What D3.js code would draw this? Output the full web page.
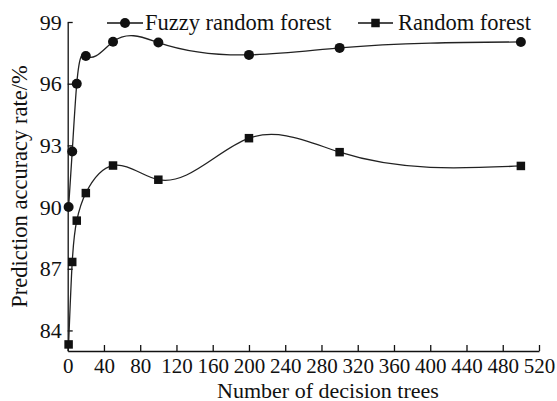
<!DOCTYPE html>
<html>
<head>
<meta charset="utf-8">
<script src="https://cdn.jsdelivr.net/npm/d3@7"></script>
<style>
  body { margin: 0; background: #fff; }
</style>
</head>
<body>
<div id="chart"></div>
<script>
const trees = [1, 5, 10, 20, 50, 100, 200, 300, 500];
const fuzzyRF = [90.0, 92.7, 96.0, 97.35, 98.04, 98.0, 97.4, 97.74, 98.03];
const plainRF = [83.32, 87.33, 89.34, 90.68, 92.02, 91.33, 93.35, 92.67, 92.0];
const seriesNames = ['Fuzzy random forest', 'Random forest'];
const xTicks = d3.range(0, 521, 40);
const yTicks = [84, 87, 90, 93, 96, 99];

const w = 557;
const h = 401;
const plotLeft = 67.7, plotRight = 539, plotTop = 22, plotBottom = 351;
const ink = '#111';
const serif = '"Liberation Serif", "Times New Roman", Times, serif';
const fs = '22.5px';

// natural cubic spline in x (like the plotting program's "spline" connector)
function SplineX(context) { this._context = context; }
SplineX.prototype = {
  areaStart() { this._line = 0; },
  areaEnd() { this._line = NaN; },
  lineStart() { this._x = []; this._y = []; },
  point(x, y) { this._x.push(+x); this._y.push(+y); },
  lineEnd() {
    let xs = this._x, ys = this._y, n = xs.length, ctx = this._context;
    if (!n) return;
    ctx.moveTo(xs[0], ys[0]);
    if (n < 3) { if (n === 2) ctx.lineTo(xs[1], ys[1]); return; }
    let hh = d3.range(n - 1).map(i => xs[i + 1] - xs[i]);
    // tridiagonal system for second derivatives, M0 = Mn-1 = 0
    let a = [], b = [], c = [], r = [];
    for (let i = 1; i < n - 1; i++) {
      a.push(hh[i - 1]);
      b.push(2 * (hh[i - 1] + hh[i]));
      c.push(hh[i]);
      r.push(6 * ((ys[i + 1] - ys[i]) / hh[i] - (ys[i] - ys[i - 1]) / hh[i - 1]));
    }
    let m = r.length;
    for (let i = 1; i < m; i++) {
      let k = a[i] / b[i - 1];
      b[i] -= k * c[i - 1];
      r[i] -= k * r[i - 1];
    }
    let M = new Array(n).fill(0);
    M[m] = r[m - 1] / b[m - 1];
    for (let i = m - 2; i >= 0; i--) M[i + 1] = (r[i] - c[i] * M[i + 2]) / b[i];
    for (let i = 0; i < n - 1; i++) {
      let s = (ys[i + 1] - ys[i]) / hh[i];
      let d0 = s - hh[i] * (2 * M[i] + M[i + 1]) / 6;
      let d1 = s + hh[i] * (M[i] + 2 * M[i + 1]) / 6;
      ctx.bezierCurveTo(xs[i] + hh[i] / 3, ys[i] + d0 * hh[i] / 3,
                        xs[i + 1] - hh[i] / 3, ys[i + 1] - d1 * hh[i] / 3,
                        xs[i + 1], ys[i + 1]);
    }
  }
};
const curveSplineX = ctx => new SplineX(ctx);

let svg = d3.select('#chart')
            .append('svg')
            .attr('width', w)
            .attr('height', h)
            .style('font-family', serif);

let xScale = d3.scaleLinear().domain([0, 520]).range([plotLeft, plotRight]);
let yScale = d3.scaleLinear().domain([83, 99]).range([plotBottom, plotTop]);

// axes, ticks point inward
let xAxis = d3.axisBottom(xScale).tickValues(xTicks).tickSizeInner(-6).tickSizeOuter(0).tickPadding(7);
let yAxis = d3.axisLeft(yScale).tickValues(yTicks).tickSizeInner(-5).tickSizeOuter(0).tickPadding(6);

let gx = svg.append('g').attr('transform', `translate(0, ${plotBottom})`).call(xAxis);
let gy = svg.append('g').attr('transform', `translate(${plotLeft}, 0)`).call(yAxis);

[gx, gy].forEach(g => {
  g.attr('font-family', null).attr('font-size', null);
  g.selectAll('path, line').attr('stroke', ink).attr('stroke-width', 1.3);
  g.selectAll('text').style('font-family', serif).attr('fill', ink);
});
gx.selectAll('text').style('font-size', '21px');
gy.selectAll('text').style('font-size', '22px');

svg.append('text')
   .attr('x', 328)
   .attr('y', 397.5)
   .attr('text-anchor', 'middle')
   .style('font-family', serif)
   .style('font-size', '22px')
   .attr('fill', ink)
   .text('Number of decision trees');

svg.append('text')
   .attr('transform', `translate(27, ${(plotTop + plotBottom) / 2}) rotate(-90)`)
   .attr('text-anchor', 'middle')
   .style('font-family', serif)
   .style('font-size', fs)
   .attr('fill', ink)
   .text('Prediction accuracy rate/%');

let line = d3.line()
             .x(d => xScale(d[0]))
             .y(d => yScale(d[1]))
             .curve(curveSplineX);

let fuzzyPts = trees.map((t, i) => [t, fuzzyRF[i]]);
let plainPts = trees.map((t, i) => [t, plainRF[i]]);

[fuzzyPts, plainPts].forEach(pts => {
  svg.append('path')
     .attr('d', line(pts))
     .attr('fill', 'none')
     .attr('stroke', '#222')
     .attr('stroke-width', 1.3);
});

svg.selectAll('circle.fz')
   .data(fuzzyPts)
   .enter()
   .append('circle')
   .attr('cx', d => xScale(d[0]))
   .attr('cy', d => yScale(d[1]))
   .attr('r', 5)
   .attr('fill', ink);

let sq = 8.5;
svg.selectAll('rect.rf')
   .data(plainPts)
   .enter()
   .append('rect')
   .attr('x', d => xScale(d[0]) - sq / 2)
   .attr('y', d => yScale(d[1]) - sq / 2)
   .attr('width', sq)
   .attr('height', sq)
   .attr('fill', ink);

// legend
let legend = svg.append('g');
legend.append('line').attr('x1', 107).attr('x2', 143).attr('y1', 23).attr('y2', 23)
      .attr('stroke', ink).attr('stroke-width', 1.3);
legend.append('circle').attr('cx', 125).attr('cy', 23).attr('r', 5).attr('fill', ink);
legend.append('text').attr('x', 145).attr('y', 29.5).style('font-family', serif).style('font-size', fs)
      .attr('fill', ink).text(seriesNames[0]);

legend.append('line').attr('x1', 358).attr('x2', 393).attr('y1', 23).attr('y2', 23)
      .attr('stroke', ink).attr('stroke-width', 1.3);
legend.append('rect').attr('x', 375.5 - sq / 2).attr('y', 23 - sq / 2).attr('width', sq).attr('height', sq).attr('fill', ink);
legend.append('text').attr('x', 398).attr('y', 29.5).style('font-family', serif).style('font-size', fs)
      .attr('fill', ink).text(seriesNames[1]);
</script>
</body>
</html>
